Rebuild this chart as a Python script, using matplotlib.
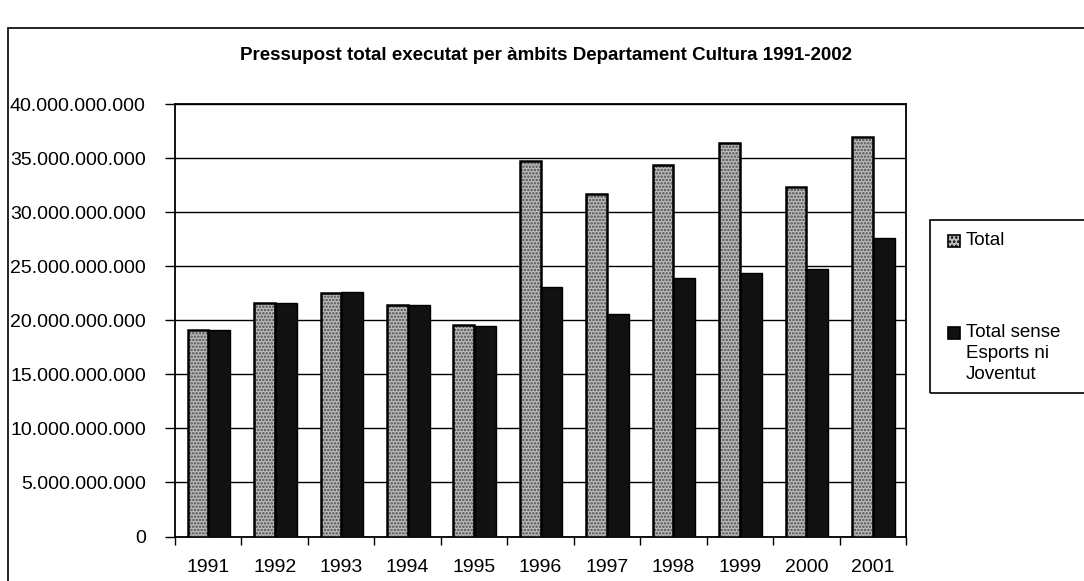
import matplotlib
matplotlib.use('Agg')
import matplotlib.pyplot as plt
import numpy as np
from matplotlib.patches import Rectangle
from matplotlib.ticker import FuncFormatter

plt.rcParams['font.family'] = ['Liberation Sans', 'DejaVu Sans']
plt.rcParams['hatch.linewidth'] = 1.2

# dades (milers de milions de pessetes)
years = ['1991', '1992', '1993', '1994', '1995', '1996', '1997', '1998', '1999', '2000', '2001']
total = [19.1, 21.55, 22.55, 21.45, 19.55, 34.75, 31.7, 34.35, 36.35, 32.35, 36.95]
sense = [19.1, 21.55, 22.6, 21.4, 19.5, 23.05, 20.6, 23.9, 24.35, 24.75, 27.65]
labels = ['Total', 'Total sense\nEsports ni\nJoventut']

W, H = 1084, 581
fig = plt.figure(figsize=(W / 100, H / 100), dpi=100)
ax = fig.add_axes([175 / W, 1 - 536.5 / H, (906 - 175) / W, (536.5 - 104) / H])

x = np.arange(len(years))
tot_v = np.array(total) * 1e9
sen_v = np.array(sense) * 1e9
bw = 0.31

# barres "Total": gris clapat amb vora negra
ax.bar(x - bw, tot_v, bw, align='edge', color='#bdbdbd', hatch='.....',
       edgecolor='#4a4a4a', linewidth=0, zorder=3)
ax.bar(x - bw, tot_v, bw, align='edge', fill=False, edgecolor='black',
       linewidth=1.8, zorder=4)
ax.bar(x, sen_v, bw + 0.02, align='edge', color='#111111',
       edgecolor='black', linewidth=1.0, zorder=3)

ax.set_xlim(-0.5, len(years) - 0.5)
ax.set_ylim(0, 40e9)
ax.set_yticks(np.arange(0, 40e9 + 1, 5e9))
ax.yaxis.set_major_formatter(FuncFormatter(lambda v, p: f'{int(v):,}'.replace(',', '.')))
ax.grid(axis='y', color='black', linewidth=1.0, zorder=1)

ax.set_xticks(x)
ax.set_xticklabels(years)
ax.set_xticks(np.arange(-0.5, len(years), 1.0), minor=True)
ax.tick_params(axis='x', which='major', length=0, pad=16, labelsize=14)
ax.tick_params(axis='x', which='minor', length=6, width=1, direction='out')
ax.tick_params(axis='y', length=7, width=1, direction='out', pad=14, labelsize=14)
for s in ax.spines.values():
    s.set_linewidth(1.3)
    s.set_color('black')

fig.text(546 / W, 1 - 55 / H, 'Pressupost total executat per àmbits Departament Cultura 1991-2002',
         ha='center', va='center', fontsize=13.5, fontweight='bold')

# marc exterior
fig.add_artist(Rectangle((8 / W, -0.1), 1.2, 1.1 - 28 / H, transform=fig.transFigure,
                         fill=False, edgecolor='black', linewidth=1.2))

# llegenda feta a mà (marcador alineat amb la primera línia)
fig.add_artist(Rectangle((930 / W, 1 - 393 / H), 0.2, (393 - 220) / H, transform=fig.transFigure,
                         fill=False, edgecolor='black', linewidth=1.2))
styles = [dict(facecolor='#bdbdbd', hatch='....', edgecolor='black'),
          dict(facecolor='#111111', edgecolor='black')]
rows = [241, 333]
for lab, st, yy in zip(labels, styles, rows):
    fig.add_artist(Rectangle((948 / W, 1 - (yy + 6) / H), 12 / W, 12 / H,
                             transform=fig.transFigure, linewidth=1.2, **st))
    fig.text(966 / W, 1 - (yy - 9) / H, lab, ha='left', va='top', fontsize=13.5,
             linespacing=1.3)

fig.savefig('out.png', dpi=100, facecolor='white')
